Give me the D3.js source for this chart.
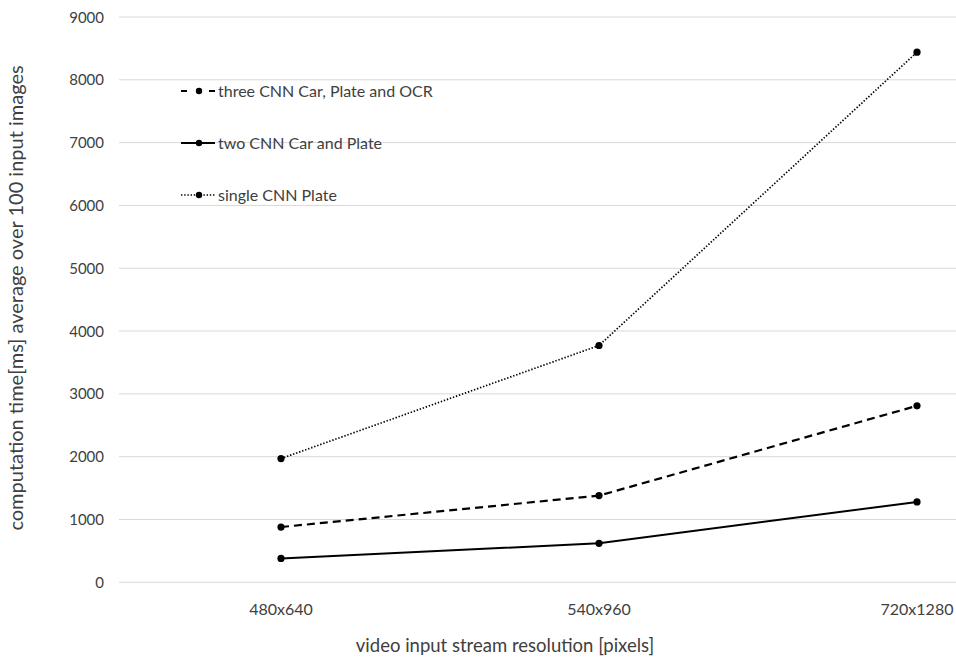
<!DOCTYPE html>
<html>
<head>
<meta charset="utf-8">
<script src="https://cdn.jsdelivr.net/npm/d3@7"></script>
<style>
  body { margin: 0; background: #fff; }
  text { font-family: Lato, "Open Sans", sans-serif; fill: #404040; }
</style>
</head>
<body>
<div id="chart"></div>
<script>
// data
const categories = ['480x640', '540x960', '720x1280'];
const threeCnn = [880, 1380, 2810];
const twoCnn = [380, 620, 1280];
const singleCnn = [1970, 3770, 8440];
const yTicks = [0, 1000, 2000, 3000, 4000, 5000, 6000, 7000, 8000, 9000];

const series = [
    { name: 'three CNN Car, Plate and OCR', values: threeCnn, dash: '8,5', legendDash: '6,22,6', width: 2.2 },
    { name: 'two CNN Car and Plate', values: twoCnn, dash: null, legendDash: null, width: 2 },
    { name: 'single CNN Plate', values: singleCnn, dash: '1.4,1.8', legendDash: '1.4,1.8', width: 1.7 }
];

const width = 956, height = 661;
const svg = d3.select('#chart').append('svg')
    .attr('width', width)
    .attr('height', height);

// plot area
const x = d3.scalePoint().domain(categories).range([281, 917]);
const y = d3.scaleLinear().domain([0, 9000]).range([582.3, 17]);

// gridlines
svg.append('g')
    .selectAll('line')
    .data(yTicks)
    .enter()
    .append('line')
    .attr('x1', 119).attr('x2', width)
    .attr('y1', d => y(d)).attr('y2', d => y(d))
    .attr('stroke', '#d9d9d9')
    .attr('stroke-width', 1);

// y tick labels
svg.append('g')
    .selectAll('text')
    .data(yTicks)
    .enter()
    .append('text')
    .attr('x', 104)
    .attr('y', d => y(d) + 5.5)
    .attr('text-anchor', 'end')
    .style('font-size', '15px')
    .text(d => d);

// x tick labels
svg.append('g')
    .selectAll('text')
    .data(categories)
    .enter()
    .append('text')
    .attr('x', d => x(d))
    .attr('y', 615)
    .attr('text-anchor', 'middle')
    .style('font-size', '16px')
    .text(d => d);

// axis titles
svg.append('text')
    .attr('x', 505).attr('y', 652)
    .attr('text-anchor', 'middle')
    .style('font-size', '18.5px')
    .text('video input stream resolution [pixels]');

svg.append('text')
    .attr('transform', 'translate(23,298) rotate(-90)')
    .attr('text-anchor', 'middle')
    .style('font-size', '20px')
    .text('computation time[ms] average over 100 input images');

// lines
const line = d3.line()
    .x((d, i) => x(categories[i]))
    .y(d => y(d));

series.forEach(s => {
    svg.append('path')
        .datum(s.values)
        .attr('d', line)
        .attr('fill', 'none')
        .attr('stroke', '#000')
        .attr('stroke-width', s.width)
        .attr('stroke-dasharray', s.dash);

    svg.append('g')
        .selectAll('circle')
        .data(s.values)
        .enter()
        .append('circle')
        .attr('cx', (d, i) => x(categories[i]))
        .attr('cy', d => y(d))
        .attr('r', 3.6)
        .attr('fill', '#000');
});

// legend
const legend = svg.append('g')
    .selectAll('g')
    .data(series)
    .enter()
    .append('g')
    .attr('transform', (d, i) => `translate(181,${91 + i * 52})`);

legend.append('line')
    .attr('x1', 0).attr('x2', 34)
    .attr('y1', 0).attr('y2', 0)
    .attr('stroke', '#000')
    .attr('stroke-width', d => d.width)
    .attr('stroke-dasharray', d => d.legendDash);

legend.append('circle')
    .attr('cx', 18).attr('cy', 0)
    .attr('r', 3.2)
    .attr('fill', '#000');

legend.append('text')
    .attr('x', 37).attr('y', 5.5)
    .style('font-size', '16px')
    .text(d => d.name);
</script>
</body>
</html>
